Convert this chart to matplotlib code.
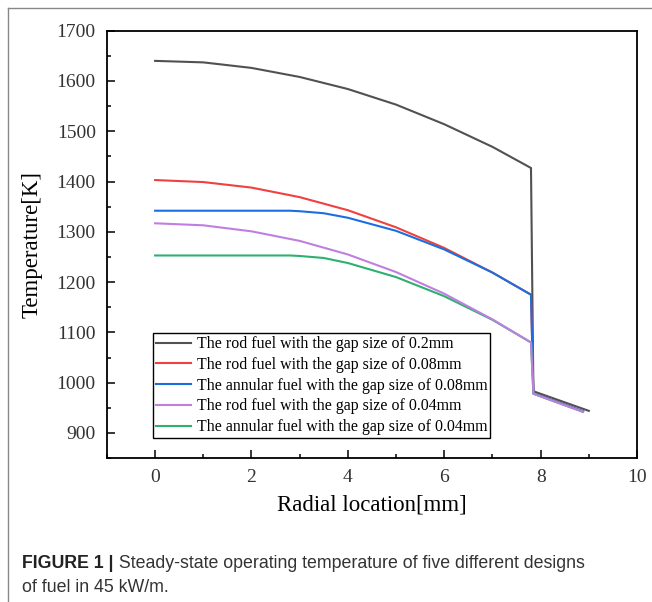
import matplotlib
matplotlib.use("Agg")
import matplotlib.pyplot as plt
from matplotlib.lines import Line2D

# radial location [mm] and temperature [K]
r_rod = [0, 1, 2, 3, 4, 5, 6, 7, 7.8, 7.85, 9.0]
t_rod_02 = [1640, 1637, 1626, 1608, 1584, 1553, 1514, 1469, 1427, 983, 944]

r_rod_b = [0, 1, 2, 3, 4, 5, 6, 7, 7.8, 7.85, 8.88]
t_rod_008 = [1403, 1399, 1388, 1369, 1343, 1309, 1268, 1219, 1175, 979, 943]
t_rod_004 = [1317, 1313, 1301, 1282, 1255, 1220, 1177, 1126, 1080, 978, 942]

r_ann = [0, 1, 2, 2.8, 3, 3.5, 4, 5, 6, 7, 7.8, 7.85, 8.88]
t_ann_008 = [1342, 1342, 1342, 1342, 1341, 1337, 1328, 1302, 1265, 1219, 1175, 979, 943]
t_ann_004 = [1253, 1253, 1253, 1253, 1252, 1248, 1238, 1210, 1172, 1125, 1080, 978, 942]

labels = [
    "The rod fuel with the gap size of 0.2mm",
    "The rod fuel with the gap size of 0.08mm",
    "The annular fuel with the gap size of 0.08mm",
    "The rod fuel with the gap size of 0.04mm",
    "The annular fuel with the gap size of 0.04mm",
]
colors = ["#515151", "#F14040", "#1A6FDF", "#C07FE0", "#2DB070"]

x_ticks = [0, 2, 4, 6, 8, 10]
y_ticks = [900, 1000, 1100, 1200, 1300, 1400, 1500, 1600, 1700]

caption_bold = "FIGURE 1 |"
caption_text = " Steady-state operating temperature of five different designs"
caption_line2 = "of fuel in 45 kW/m."

serif = ["Liberation Serif", "DejaVu Serif"]
sans = ["Liberation Sans", "DejaVu Sans"]

fig = plt.figure(figsize=(6.52, 6.02), dpi=100)
ax = fig.add_axes([0.164, 0.239, 0.813, 0.71])

series = [(r_rod, t_rod_02), (r_rod_b, t_rod_008), (r_ann, t_ann_008),
          (r_rod_b, t_rod_004), (r_ann, t_ann_004)]
zorders = [2, 3, 4, 6, 5]
for (r, t), c, lab, z in zip(series, colors, labels, zorders):
    ax.plot(r, t, color=c, linewidth=1.5, label=lab, zorder=z)

ax.set_xlim(-1, 10)
ax.set_ylim(850, 1700)
ax.set_xticks(x_ticks)
ax.set_yticks(y_ticks)
ax.set_xticks([-1, 1, 3, 5, 7, 9], minor=True)
ax.set_yticks([850, 950, 1050, 1150, 1250, 1350, 1450, 1550, 1650], minor=True)
ax.tick_params(which="both", direction="in", width=1.1, labelsize=14, pad=8)
ax.tick_params(which="major", length=6)
ax.tick_params(which="minor", length=3)
for lbl in ax.get_xticklabels() + ax.get_yticklabels():
    lbl.set_family(serif)
    lbl.set_color("#333333")
for s in ax.spines.values():
    s.set_linewidth(1.3)

ax.set_xlabel("Radial location[mm]", fontsize=16.5, family=serif, labelpad=6)
ax.set_ylabel("Temperature[K]", fontsize=16.5, family=serif, labelpad=10)

leg = ax.legend(loc="upper left", bbox_to_anchor=(0.087, 0.293), fancybox=False,
                edgecolor="black", framealpha=1, borderpad=0.2, labelspacing=0.3,
                handlelength=2.2, handletextpad=0.35, borderaxespad=0,
                prop={"family": serif, "size": 11.4})
leg.get_frame().set_linewidth(1.0)

# page frame lines
fig.add_artist(Line2D([0.013, 1.0], [0.987, 0.987], color="#888888", linewidth=1.0))
fig.add_artist(Line2D([0.013, 0.013], [0.0, 0.987], color="#888888", linewidth=1.0))

t1 = fig.text(0.034, 0.057, caption_bold, fontsize=12.8, fontweight="bold",
              family=sans, color="#222222")
ax.annotate(caption_text, xy=(1, 0), xycoords=t1, va="bottom", ha="left",
            fontsize=12.8, family=sans, color="#333333", annotation_clip=False)
fig.text(0.034, 0.017, caption_line2, fontsize=12.8, family=sans, color="#333333")

fig.savefig("out.png", dpi=100)
